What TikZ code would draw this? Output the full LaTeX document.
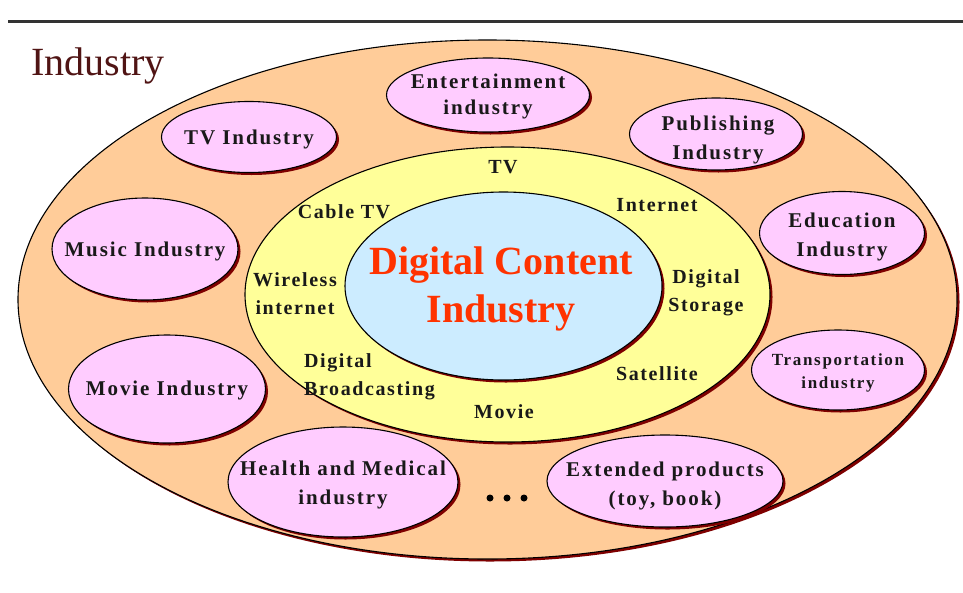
\documentclass[tikz,border=0pt]{standalone}
\usepackage{fontspec}
\setmainfont{Liberation Serif}
\newfontfamily\lblfont[LetterSpace=9]{Liberation Serif}
\newfontfamily\smallfont[LetterSpace=10]{Liberation Serif}
\newfontfamily\innerfont[LetterSpace=8]{Liberation Serif}
\usetikzlibrary{shapes.geometric,shadows}
\definecolor{peach}{HTML}{FFCC99}
\definecolor{ringyellow}{HTML}{FFFF99}
\definecolor{coreblue}{HTML}{CCECFF}
\definecolor{pinkfill}{HTML}{FFCCFF}
\definecolor{shadowred}{HTML}{7F0000}
\definecolor{corered}{HTML}{FF3300}
\definecolor{titlered}{RGB}{80,20,20}
\definecolor{rulegray}{HTML}{333333}
\tikzset{
  ring/.style={ellipse, draw=black, line width=1.1pt, inner sep=0pt,
    general shadow={fill=shadowred, shadow xshift=2.5pt, shadow yshift=-2.5pt}},
  pinkell/.style={ring, fill=pinkfill},
  lbl/.style={font=\lblfont\bfseries\fontsize{21}{29}\selectfont, align=center, inner sep=0pt, text=black!90},
  smalllbl/.style={font=\smallfont\bfseries\fontsize{17}{23}\selectfont, align=center, inner sep=0pt, text=black!90},
  innerlbl/.style={font=\innerfont\bfseries\fontsize{20}{28}\selectfont, align=center, inner sep=0pt, text=black!90},
  corelbl/.style={font=\bfseries\fontsize{40}{48}\selectfont, align=center, inner sep=0pt, text=corered},
}
\begin{document}
\begin{tikzpicture}[x=1pt,y=-1pt]
\fill[white] (0,0) rectangle (963,592);
\useasboundingbox (0,0) rectangle (963,592);
% top rule
\coordinate (ruleL) at (8,21);
\coordinate (ruleR) at (963,21);
\draw[rulegray, line width=3pt] (ruleL) -- (ruleR);
% title
\node[anchor=base west, inner sep=0pt, font=\fontsize{40}{44}\selectfont, text=titlered] (title) at (31,75) {Industry};
% main rings
\node[ring, fill=peach, minimum width=939pt, minimum height=519pt] (outer) at (487.5,299.5) {};
\node[ring, fill=ringyellow, minimum width=525pt, minimum height=295pt] (middle) at (507.5,294.5) {};
\node[ring, fill=coreblue, minimum width=317pt, minimum height=188pt] (core) at (503.5,286) {};
\node[corelbl] (coretext) at (501,289) {Digital Content\\Industry};
% middle ring labels
\node[innerlbl] (tv) at (503,167) {TV};
\node[innerlbl] (cable) at (344,212) {Cable TV};
\node[innerlbl] (internet) at (657,205) {Internet};
\node[innerlbl] (wireless) at (295,294) {Wireless\\internet};
\node[innerlbl] (storage) at (706,293) {Digital\\Storage};
\node[innerlbl, align=left, anchor=west] (broadcast) at (304,377) {Digital\\Broadcasting};
\node[innerlbl] (satellite) at (657,374) {Satellite};
\node[innerlbl] (movie) at (504,412) {Movie};
% industry ellipses
\node[pinkell, minimum width=203pt, minimum height=74pt] (ent) at (488,95) {};
\node[lbl, font=\lblfont\bfseries\fontsize{21}{26}\selectfont] at (488,96) {Entertainment\\industry};
\node[pinkell, minimum width=175pt, minimum height=71pt] (tvi) at (249,137) {};
\node[lbl] at (249,139) {TV Industry};
\node[pinkell, minimum width=186pt, minimum height=102pt] (music) at (145,249) {};
\node[lbl] at (145,251) {Music Industry};
\node[pinkell, minimum width=173pt, minimum height=72pt] (pub) at (716,134) {};
\node[lbl] at (718,140) {Publishing\\Industry};
\node[pinkell, minimum width=165pt, minimum height=83pt] (edu) at (842,233) {};
\node[lbl] at (842,237) {Education\\Industry};
\node[pinkell, minimum width=197pt, minimum height=108pt] (moviei) at (167,389) {};
\node[lbl] at (167,390) {Movie Industry};
\node[pinkell, minimum width=230pt, minimum height=110pt] (health) at (343,482) {};
\node[lbl] at (343,485) {Health and Medical\\industry};
\node[pinkell, minimum width=173pt, minimum height=80pt] (trans) at (838,370) {};
\node[smalllbl] at (838,373) {Transportation\\industry};
\node[pinkell, minimum width=236pt, minimum height=92pt] (ext) at (665,481) {};
\node[lbl] at (665,486) {Extended products\\(toy, book)};
% dots
\fill[black] (490,498) circle (3.5pt) (507,498) circle (3.5pt) (524,498) circle (3.5pt);
\end{tikzpicture}
\end{document}
